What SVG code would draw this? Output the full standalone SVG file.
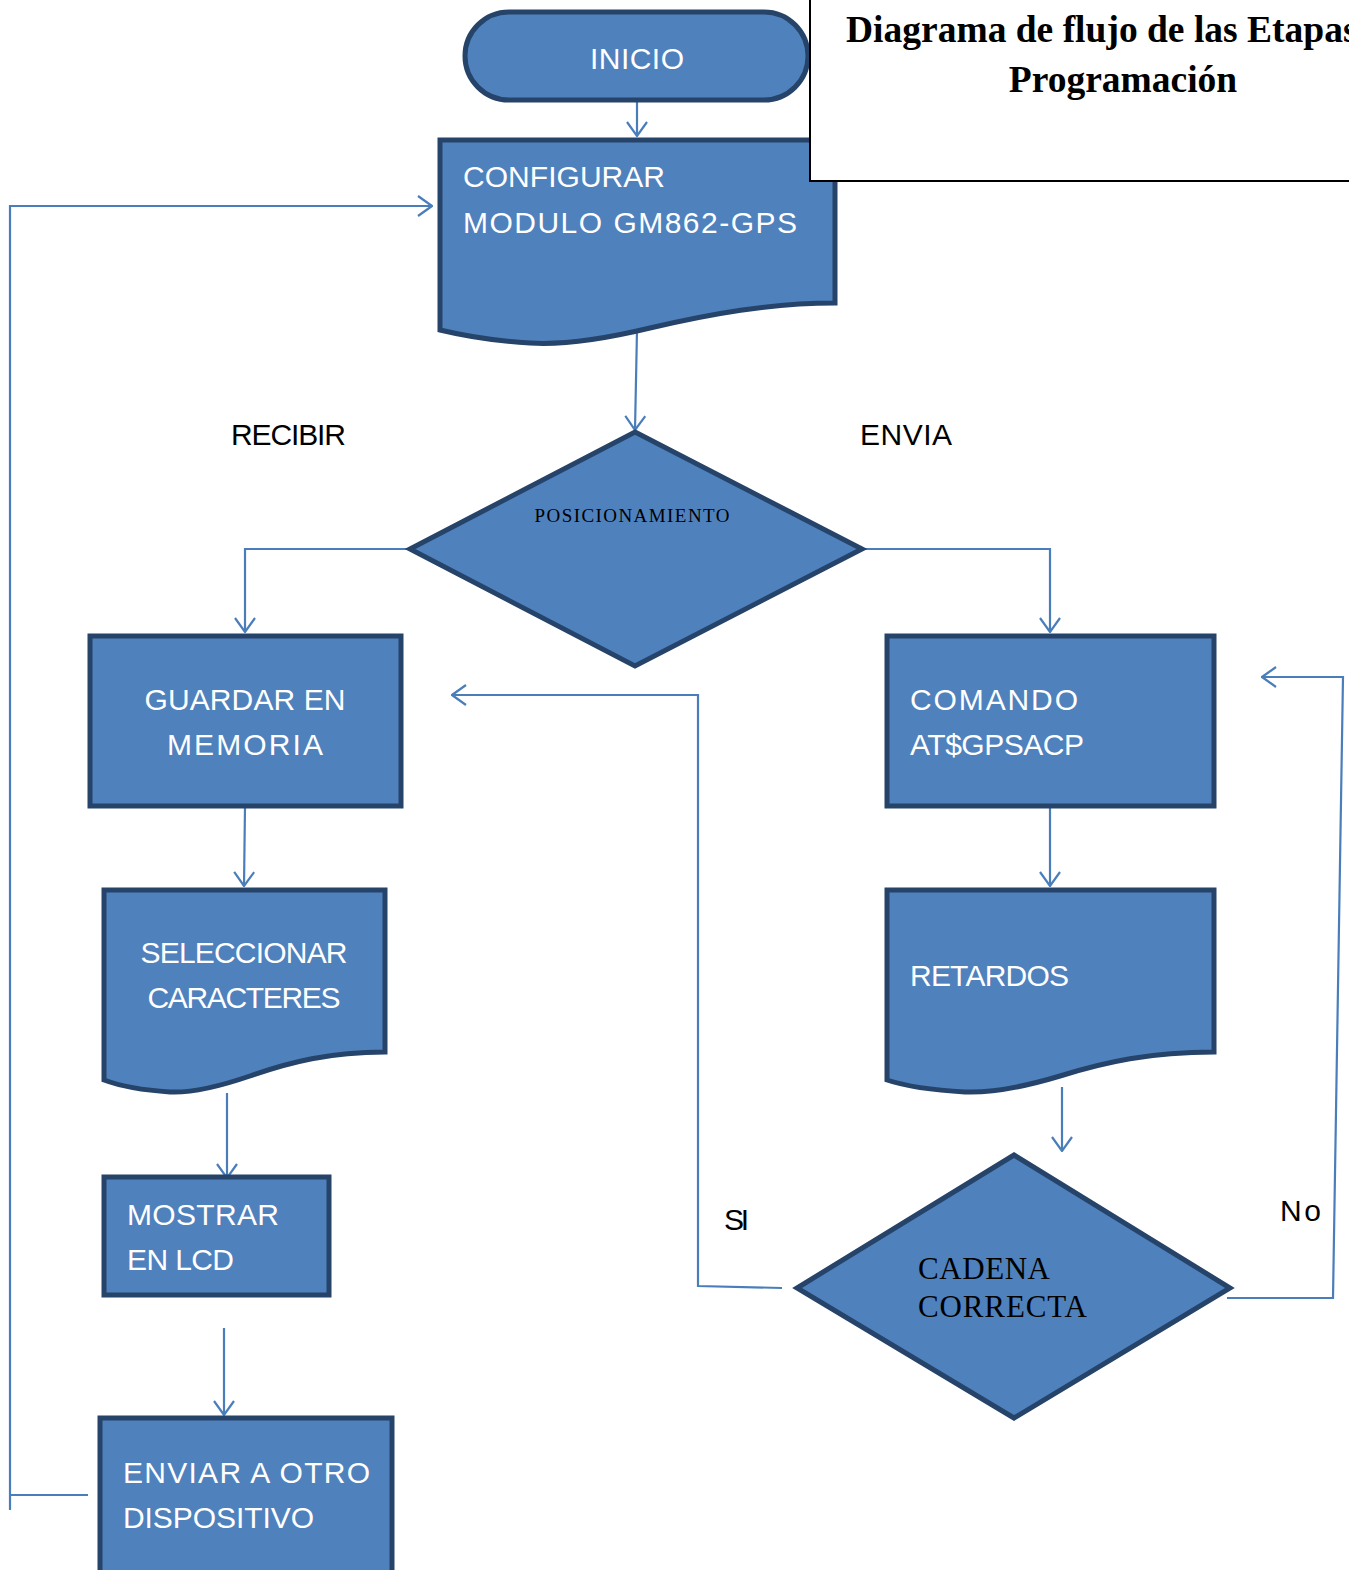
<svg xmlns="http://www.w3.org/2000/svg" width="1349" height="1570" viewBox="0 0 1349 1570">
<style>
.shape{fill:#4F81BD;stroke:#264369;stroke-width:5;stroke-linejoin:miter}
.conn{fill:none;stroke:#4A7EBB;stroke-width:2.2}
.t{font-family:"Liberation Sans",Arial,sans-serif;font-size:30px;fill:#ffffff}
.lbl{font-family:"Liberation Sans",Arial,sans-serif;font-size:30px;fill:#000000}
.serif{font-family:"Liberation Serif","Times New Roman",serif;fill:#000000}
</style>
<defs>
<marker id="arr" viewBox="0 0 16 22" refX="15" refY="11" markerWidth="16" markerHeight="22" markerUnits="userSpaceOnUse" orient="auto">
<path d="M1,1 L15,11 L1,21" fill="none" stroke="#4A7EBB" stroke-width="2.2"/>
</marker>
</defs>
<rect width="1349" height="1570" fill="#ffffff"/>

<g id="connectors">
<path class="conn" d="M637,100 V136" marker-end="url(#arr)"/>
<path class="conn" d="M637,330 L635,430" marker-end="url(#arr)"/>
<path class="conn" d="M410,549 H245 V632" marker-end="url(#arr)"/>
<path class="conn" d="M862,549 H1050 V632" marker-end="url(#arr)"/>
<path class="conn" d="M245,806 L244,886" marker-end="url(#arr)"/>
<path class="conn" d="M1050,806 V886" marker-end="url(#arr)"/>
<path class="conn" d="M1062,1087 V1151" marker-end="url(#arr)"/>
<path class="conn" d="M227,1093 V1178" marker-end="url(#arr)"/>
<path class="conn" d="M224,1328 V1415" marker-end="url(#arr)"/>
<path class="conn" d="M782,1288 L698,1286 V695 H452" marker-end="url(#arr)"/>
<path class="conn" d="M1227,1298 H1333 L1343,677 H1262" marker-end="url(#arr)"/>
<path class="conn" d="M88,1495 H10"/>
<path class="conn" d="M10,1510 V206 H432" marker-end="url(#arr)"/>
</g>

<g id="inicio">
<rect class="shape" x="465" y="12" width="343" height="88" rx="44" ry="44"/>
<text class="t" x="637" y="69" text-anchor="middle" textLength="94">INICIO</text>
</g>

<g id="configurar">
<path class="shape" d="M440,140 H835 V303 C770,303 710,314 650,328 C600,340 560,345 530,343 C495,341 465,336 440,330 Z"/>
<text class="t" x="463" y="187" textLength="202">CONFIGURAR</text>
<text class="t" x="463" y="233" textLength="334">MODULO GM862-GPS</text>
</g>

<g id="title">
<rect x="810" y="-5" width="545" height="186" fill="#ffffff" stroke="#000000" stroke-width="2"/>
<text class="serif" x="846" y="42" font-size="37.5" font-weight="bold">Diagrama de flujo de las Etapas</text>
<text class="serif" x="1123" y="92" font-size="37.5" font-weight="bold" text-anchor="middle">Programación</text>
</g>

<g id="labels">
<text class="lbl" x="231" y="445" textLength="115">RECIBIR</text>
<text class="lbl" x="860" y="445" textLength="92">ENVIA</text>
<text class="lbl" x="724" y="1230" textLength="25">SI</text>
<text class="lbl" x="1280" y="1221" textLength="41">No</text>
</g>

<g id="posicionamiento">
<polygon class="shape" points="635,432 862,549 635,666 410,549"/>
<text class="serif" x="632" y="522" font-size="19" text-anchor="middle" textLength="195">POSICIONAMIENTO</text>
</g>

<g id="guardar">
<rect class="shape" x="90" y="636" width="311" height="170"/>
<text class="t" x="245" y="710" text-anchor="middle" textLength="201">GUARDAR EN</text>
<text class="t" x="245" y="755" text-anchor="middle" textLength="156">MEMORIA</text>
</g>

<g id="comando">
<rect class="shape" x="887" y="636" width="327" height="170"/>
<text class="t" x="910" y="710" textLength="168">COMANDO</text>
<text class="t" x="910" y="755" textLength="174">AT$GPSACP</text>
</g>

<g id="seleccionar">
<path class="shape" d="M104,890 H385 V1052 C330,1052 290,1062 250,1076 C215,1088 190,1093 170,1092 C140,1090 120,1086 104,1080 Z"/>
<text class="t" x="244" y="963" text-anchor="middle" textLength="207">SELECCIONAR</text>
<text class="t" x="244" y="1008" text-anchor="middle" textLength="193">CARACTERES</text>
</g>

<g id="retardos">
<path class="shape" d="M887,890 H1214 V1052 C1150,1052 1105,1062 1060,1076 C1020,1088 990,1093 965,1092 C930,1090 905,1086 887,1080 Z"/>
<text class="t" x="910" y="986" textLength="159">RETARDOS</text>
</g>

<g id="cadena">
<polygon class="shape" points="1014,1155 1230,1288 1014,1418 797,1288"/>
<text class="serif" x="918" y="1279" font-size="31" textLength="132">CADENA</text>
<text class="serif" x="918" y="1317" font-size="31" textLength="169">CORRECTA</text>
</g>

<g id="mostrar">
<rect class="shape" x="104" y="1177" width="225" height="118"/>
<text class="t" x="127" y="1225" textLength="152">MOSTRAR</text>
<text class="t" x="127" y="1270" textLength="107">EN LCD</text>
</g>

<g id="enviar">
<rect class="shape" x="100" y="1418" width="292" height="160"/>
<text class="t" x="123" y="1483" textLength="247">ENVIAR  A OTRO</text>
<text class="t" x="123" y="1528" textLength="191">DISPOSITIVO</text>
</g>
</svg>
